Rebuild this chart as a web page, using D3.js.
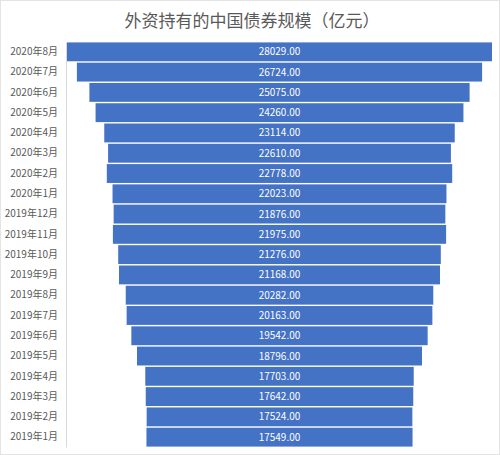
<!DOCTYPE html>
<html>
<head>
<meta charset="utf-8">
<script src="https://cdn.jsdelivr.net/npm/d3@7"></script>
<style>
  body { margin: 0; background: #fff; }
  #funnel { width: 500px; height: 455px; }
</style>
</head>
<body>
<div id="funnel"></div>
<script>
const months = ["2020年8月", "2020年7月", "2020年6月", "2020年5月", "2020年4月", "2020年3月",
  "2020年2月", "2020年1月", "2019年12月", "2019年11月", "2019年10月", "2019年9月",
  "2019年8月", "2019年7月", "2019年6月", "2019年5月", "2019年4月", "2019年3月",
  "2019年2月", "2019年1月"];
const holdings = [28029, 26724, 25075, 24260, 23114, 22610, 22778, 22023, 21876, 21975,
  21276, 21168, 20282, 20163, 19542, 18796, 17703, 17642, 17524, 17549];
const title = "外资持有的中国债券规模（亿元）";

function drawFunnel() {
  const container = d3.select("#funnel");
  container.selectAll("*").remove();

  const width = 500;
  const height = 455;
  const margin = { top: 42, right: 8, bottom: 8, left: 67 };
  const font = "'Noto Sans CJK SC', 'Noto Sans', sans-serif";

  const svg = container.append("svg")
    .attr("width", width)
    .attr("height", height);

  // light chart border
  svg.append("rect")
    .attr("x", 0.5).attr("y", 0.5)
    .attr("width", width - 1).attr("height", height - 1)
    .attr("fill", "#fff")
    .attr("stroke", "#e4e4e4");

  const data = months.map((m, i) => ({ month: m, value: holdings[i] }));

  const y = d3.scaleBand()
    .domain(months)
    .range([margin.top, height - margin.bottom])
    .paddingInner(0.07)
    .paddingOuter(0.02);

  const cx = (margin.left + width - margin.right) / 2;
  const half = d3.scaleLinear()
    .domain([0, d3.max(holdings)])
    .range([0, (width - margin.right - margin.left) / 2]);

  svg.append("text")
    .attr("x", width / 2 + 2)
    .attr("y", 27)
    .attr("text-anchor", "middle")
    .attr("font-family", font)
    .attr("font-size", 17)
    .attr("fill", "#595959")
    .text(title);

  svg.selectAll(".bar")
    .data(data)
    .join("rect")
    .attr("class", "bar")
    .attr("x", d => cx - half(d.value))
    .attr("y", d => y(d.month))
    .attr("width", d => 2 * half(d.value))
    .attr("height", y.bandwidth())
    .attr("fill", "#4472c4");

  svg.selectAll(".val")
    .data(data)
    .join("text")
    .attr("class", "val")
    .attr("x", cx)
    .attr("y", d => y(d.month) + y.bandwidth() / 2)
    .attr("dy", "0.35em")
    .attr("text-anchor", "middle")
    .attr("font-family", font)
    .attr("font-size", 10)
    .attr("fill", "#fff")
    .text(d => d3.format(".2f")(d.value));

  const axis = svg.append("g")
    .attr("transform", `translate(${margin.left - 1},0)`)
    .call(d3.axisLeft(y).tickSize(0).tickPadding(8));
  axis.select(".domain").attr("stroke", "#d9d9d9");
  axis.selectAll("text")
    .attr("font-family", font)
    .attr("font-size", 10)
    .attr("fill", "#595959");
}

drawFunnel();
</script>
</body>
</html>
